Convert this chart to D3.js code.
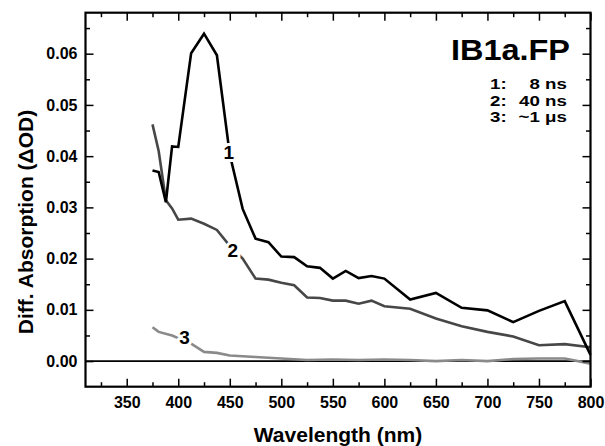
<!DOCTYPE html>
<html>
<head>
<meta charset="utf-8">
<title>IB1a.FP transient spectra</title>
<style>
  body { margin: 0; background: #fff; }
  svg { display: block; font-family: 'Liberation Sans', Arial, Helvetica, sans-serif; font-weight: bold; }
  .axis path { display: none; }
  .axis line { stroke: #000; stroke-width: 1.5; }
  .axis text { font-size: 16px; font-weight: bold; fill: #000; font-family: 'Liberation Sans', Arial, sans-serif; }
  .curve { fill: none; stroke-width: 2.6; stroke-linejoin: miter; }
  .tag { font-size: 19px; paint-order: stroke; stroke: #fff; stroke-width: 6px; stroke-linejoin: round; }
</style>
</head>
<body>
<script src="https://d3js.org/d3.v7.min.js"></script>
<script>

// transient 1: 8 ns
var wl1 = [375, 381, 388, 394, 400, 412.5, 425, 437.5, 450, 462.5, 475, 487.5, 500, 512.5, 525, 537.5, 550, 562.5, 575, 587.5, 600, 625, 650, 675, 700, 725, 750, 775, 800];
var od1 = [0.0372, 0.0369, 0.0310, 0.0419, 0.0418, 0.0601, 0.0639, 0.0597, 0.0403, 0.0297, 0.0239, 0.0232, 0.0204, 0.0203, 0.0185, 0.0182, 0.0161, 0.0176, 0.0162, 0.0166, 0.0161, 0.0120, 0.0133, 0.0104, 0.0099, 0.0076, 0.0098, 0.0117, 0.0012];

// transient 2: 40 ns
var wl2 = [375, 381, 388, 394, 400, 412.5, 425, 437.5, 450, 462.5, 475, 487.5, 500, 512.5, 525, 537.5, 550, 562.5, 575, 587.5, 600, 625, 650, 675, 700, 725, 750, 775, 800];
var od2 = [0.0462, 0.0410, 0.0314, 0.0298, 0.0276, 0.0278, 0.0268, 0.0256, 0.0225, 0.0200, 0.0161, 0.0159, 0.0153, 0.0148, 0.0124, 0.0123, 0.0118, 0.0118, 0.0112, 0.0118, 0.0107, 0.0102, 0.0083, 0.0068, 0.0057, 0.0048, 0.0031, 0.0033, 0.0027];

// transient 3: ~1 us
var wl3 = [375, 381, 394, 412.5, 425, 437.5, 450, 475, 500, 525, 550, 575, 600, 625, 650, 675, 700, 725, 750, 775, 800];
var od3 = [0.0066, 0.0057, 0.0050, 0.0034, 0.0018, 0.0016, 0.0011, 0.0008, 0.0005, 0.0002, 0.0003, 0.0002, 0.0003, 0.0002, 0.0000, 0.0002, 0.0000, 0.0004, 0.0005, 0.0005, -0.0005];

var curveColors = ["#000000", "#474747", "#8a8a8a"];

// curve number tags (placed on the curves)
var tagText = ["1", "2", "3"];
var tagWl = [449, 453, 406];
var tagOd = [0.0407, 0.0217, 0.0047];

var xTicks = [350, 400, 450, 500, 550, 600, 650, 700, 750, 800];
var xMinor = [325, 375, 425, 475, 525, 575, 625, 675, 725, 775];
var yTicks = [0, 0.01, 0.02, 0.03, 0.04, 0.05, 0.06];
var yMinor = [0.005, 0.015, 0.025, 0.035, 0.045, 0.055, 0.065];

var legendNum = ["1:", "2:", "3:"];
var legendTime = ["8 ns", "40 ns", "~1 \u03bcs"];

var W = 605, H = 446,
    margin = {top: 12.7, right: 14.5, bottom: 59.3, left: 85.5},
    width = W - margin.left - margin.right,
    height = H - margin.top - margin.bottom;

var svg = d3.select("body").append("svg")
    .attr("width", W)
    .attr("height", H);

var g = svg.append("g")
    .attr("transform", "translate(" + margin.left + "," + margin.top + ")");

var x = d3.scaleLinear().domain([310, 800]).range([0, width]);
var y = d3.scaleLinear().domain([-0.005, 0.068]).range([height, 0]);

//zero line
g.append("line")
    .attr("x1", 0).attr("x2", width)
    .attr("y1", y(0)).attr("y2", y(0))
    .attr("stroke", "#000").attr("stroke-width", 1.6);

// curves
var line = d3.line()
    .x(function(d){ return x(d[0]); })
    .y(function(d){ return y(d[1]); });

var series = [d3.zip(wl1, od1), d3.zip(wl2, od2), d3.zip(wl3, od3)];

g.selectAll(".curve")
    .data(series.slice().reverse())
    .enter()
    .append("path")
    .attr("class", "curve")
    .attr("stroke", function(d, i){ return curveColors[2 - i]; })
    .attr("d", line);

g.selectAll(".tag")
    .data(tagText)
    .enter()
    .append("text")
    .attr("class", "tag")
    .attr("x", function(d, i){ return x(tagWl[i]); })
    .attr("y", function(d, i){ return y(tagOd[i]); })
    .attr("dy", "0.36em")
    .attr("text-anchor", "middle")
    .text(function(d){ return d; });

// axes, ticks pointing inward
function noLabel(){ return ""; }

g.append("g").attr("class", "axis")
    .attr("transform", "translate(0," + height + ")")
    .call(d3.axisBottom(x).tickValues(xTicks).tickSize(-8).tickPadding(10).tickFormat(d3.format("d")));
g.append("g").attr("class", "axis")
    .attr("transform", "translate(0," + height + ")")
    .call(d3.axisBottom(x).tickValues(xMinor).tickSize(-4.5).tickFormat(noLabel));
g.append("g").attr("class", "axis")
    .call(d3.axisTop(x).tickValues(xTicks).tickSize(-8).tickFormat(noLabel));
g.append("g").attr("class", "axis")
    .call(d3.axisTop(x).tickValues(xMinor).tickSize(-4.5).tickFormat(noLabel));

g.append("g").attr("class", "axis")
    .call(d3.axisLeft(y).tickValues(yTicks).tickSize(-8).tickPadding(8).tickFormat(d3.format(".2f")));
g.append("g").attr("class", "axis")
    .call(d3.axisLeft(y).tickValues(yMinor).tickSize(-4.5).tickFormat(noLabel));
g.append("g").attr("class", "axis")
    .attr("transform", "translate(" + width + ",0)")
    .call(d3.axisRight(y).tickValues(yTicks).tickSize(-8).tickFormat(noLabel));
g.append("g").attr("class", "axis")
    .attr("transform", "translate(" + width + ",0)")
    .call(d3.axisRight(y).tickValues(yMinor).tickSize(-4.5).tickFormat(noLabel));

// frame
g.append("rect")
    .attr("width", width).attr("height", height)
    .attr("fill", "none").attr("stroke", "#000").attr("stroke-width", 2.2);

// axis titles
svg.append("text")
    .attr("x", margin.left + width / 2)
    .attr("y", 441.5)
    .attr("text-anchor", "middle")
    .style("font-size", "21px")
    .text("Wavelength (nm)");

svg.append("text")
    .attr("transform", "translate(32.5,222) rotate(-90)")
    .attr("text-anchor", "middle")
    .style("font-size", "21px")
    .text("Diff. Absorption (\u0394OD)");

// sample name and legend (the original lettering is a bit wide, hence the x stretch)
svg.append("text")
    .attr("transform", "translate(570,59.5) scale(1.12,1)")
    .attr("text-anchor", "end")
    .style("font-size", "29px")
    .text("IB1a.FP");

var leg = svg.selectAll(".leg")
    .data(legendNum)
    .enter()
    .append("g")
    .attr("class", "leg")
    .style("font-size", "15px");

leg.append("text")
    .attr("transform", function(d, i){ return "translate(490,"  + (89 + i * 16.5) + ") scale(1.25,1)"; })
    .text(function(d){ return d; });

leg.append("text")
    .attr("transform", function(d, i){ return "translate(567," + (89 + i * 16.5) + ") scale(1.25,1)"; })
    .attr("text-anchor", "end")
    .text(function(d, i){ return legendTime[i]; });

</script>
</body>
</html>
